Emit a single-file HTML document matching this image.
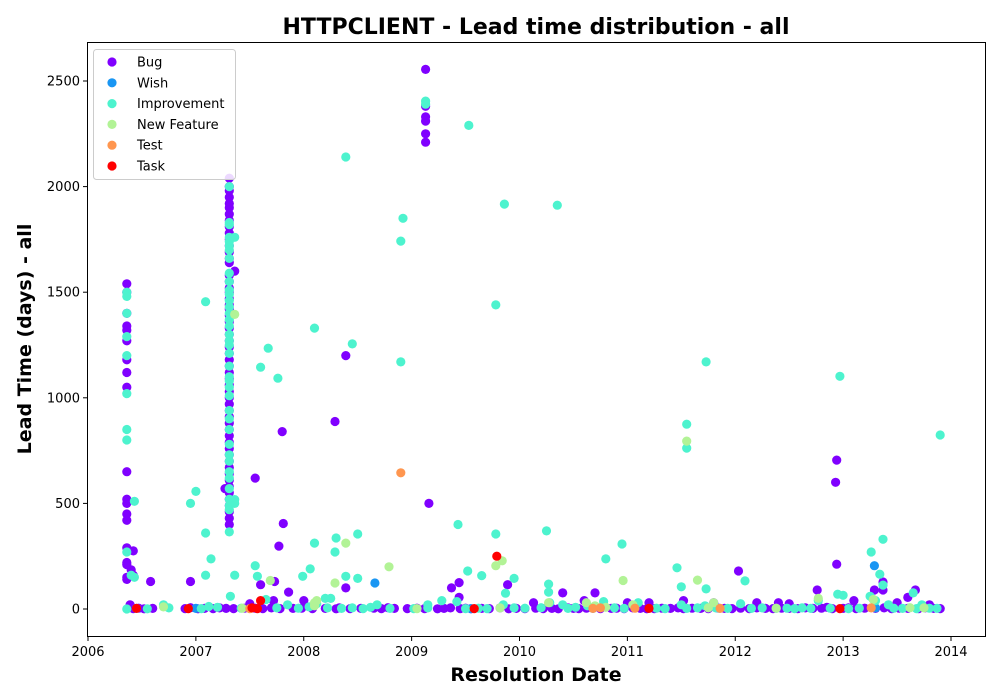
<!DOCTYPE html>
<html><head><meta charset="utf-8"><style>
html,body{margin:0;padding:0;background:#fff;width:1000px;height:700px;overflow:hidden}
text{font-family:"DejaVu Sans","Liberation Sans",sans-serif}
</style></head><body>
<svg id="chart" width="1000" height="700" xmlns="http://www.w3.org/2000/svg">
<text x="536" y="34" text-anchor="middle" font-size="22" font-weight="bold">HTTPCLIENT - Lead time distribution - all</text>
<rect x="87.5" y="42.5" width="898" height="594" fill="none" stroke="#000" stroke-width="1"/>
<g id="marks"></g><g id="xaxis"></g><g id="yaxis"></g>
<text x="536" y="681" text-anchor="middle" font-size="19" font-weight="bold">Resolution Date</text>
<text transform="translate(31,339) rotate(-90)" text-anchor="middle" font-size="19" font-weight="bold">Lead Time (days) - all</text>
<g id="legend"></g>
</svg>
<script>
const xTicks=[2006,2007,2008,2009,2010,2011,2012,2013,2014];
const yTicks=[0,500,1000,1500,2000,2500];
const seriesNames=["Bug","Wish","Improvement","New Feature","Test","Task"];
const seriesColors=["#8000ff","#1996f3","#4df3ce","#b2f396","#ff964f","#ff0000"];
const bug=[[2006.36,1540],[2006.36,1500],[2006.36,1400],[2006.36,1340],[2006.36,1320],[2006.36,1270],[2006.36,1180],[2006.36,1120],[2006.36,1050],[2006.36,650],[2006.36,520],[2006.36,500],[2006.36,450],[2006.36,420],[2006.36,290],[2006.36,220],[2006.36,210],[2006.36,150],[2006.36,140],[2006.39,20],[2006.42,275],[2006.4,185],[2006.42,160],[2006.58,130],[2006.95,130],
[2007.31,2040],[2007.31,2000],[2007.31,1980],[2007.31,1950],[2007.31,1920],[2007.31,1900],[2007.31,1870],[2007.31,1840],[2007.31,1810],[2007.31,1780],[2007.31,1750],[2007.31,1720],[2007.31,1690],[2007.31,1660],[2007.31,1640],[2007.36,1600],[2007.31,1580],[2007.31,1550],[2007.31,1520],[2007.31,1500],[2007.31,1470],[2007.31,1440],[2007.31,1420],[2007.31,1390],[2007.31,1360],[2007.31,1330],[2007.31,1300],[2007.31,1270],[2007.31,1240],[2007.31,1210],[2007.31,1180],[2007.31,1150],[2007.31,1120],[2007.31,1090],[2007.31,1060],[2007.31,1030],[2007.31,1000],[2007.31,970],[2007.31,940],[2007.31,910],[2007.31,880],[2007.31,850],[2007.31,820],[2007.31,790],[2007.31,760],[2007.31,730],[2007.31,700],[2007.31,670],[2007.31,640],[2007.31,610],[2007.31,580],[2007.27,570],[2007.31,550],[2007.31,520],[2007.31,490],[2007.31,460],[2007.31,430],[2007.31,400],
[2007.55,620],[2007.8,840],[2007.77,298],[2007.81,405],[2007.6,115],[2007.86,80],[2008.39,1200],[2008.29,888],[2008.39,100],[2009.13,2555],[2009.13,2380],[2009.13,2330],[2009.13,2310],[2009.13,2250],[2009.13,2210],[2009.16,500],[2009.44,125],[2009.37,100],[2009.44,55],[2009.89,115],[2010.4,76],[2010.7,76],[2012.03,180],[2012.94,705],[2012.93,600],[2012.94,212],[2013.29,90],[2013.37,128],[2013.37,90],[2013.67,90],[2013.6,55],[2012.76,90],[2007.73,130],[2007.72,40],[2008.0,40],[2010.13,30],[2010.6,40],[2011.0,30],[2011.2,30],[2012.2,30],[2012.4,30],[2012.5,25],[2013.1,40],[2013.5,30],[2013.8,20],[2011.52,40],[2011.8,30],
[2006.38,5],[2006.42,2],[2006.47,4],[2006.52,1],[2006.6,3],[2006.9,2],[2006.95,6],[2007.02,1],[2007.08,3],[2007.16,2],[2007.22,5],[2007.28,3],[2007.35,2],[2007.45,4],[2007.5,25],[2007.55,4],[2007.62,2],[2007.7,5],[2007.78,2],[2007.9,3],[2007.98,4],[2008.08,2],[2008.2,3],[2008.3,1],[2008.33,5],[2008.43,2],[2008.53,3],[2008.65,4],[2008.72,2],[2008.78,6],[2008.84,3],[2008.96,2],[2009.05,4],[2009.12,2],[2009.24,1],[2009.3,3],[2009.36,5],[2009.45,2],[2009.5,4],[2009.55,1],[2009.65,3],[2009.72,2],[2009.82,5],[2009.9,1],[2009.97,3],[2010.05,2],[2010.15,4],[2010.22,2],[2010.3,3],[2010.36,1],[2010.45,5],[2010.5,3],[2010.55,2],[2010.62,4],[2010.68,6],[2010.75,2],[2010.85,3],[2010.9,4],[2010.97,2],[2011.05,5],[2011.12,3],[2011.18,1],[2011.25,2],[2011.32,4],[2011.4,3],[2011.47,5],[2011.52,2],[2011.6,4],[2011.68,3],[2011.75,2],[2011.83,5],[2011.9,3],[2011.97,2],[2012.05,4],[2012.13,2],[2012.2,5],[2012.28,3],[2012.35,2],[2012.43,4],[2012.5,3],[2012.58,2],[2012.65,5],[2012.72,3],[2012.8,4],[2012.85,8],[2012.9,2],[2013.0,3],[2013.05,5],[2013.12,2],[2013.2,4],[2013.3,3],[2013.38,5],[2013.45,2],[2013.52,4],[2013.6,3],[2013.7,2],[2013.76,5],[2013.84,3],[2013.9,2]];
const wish=[[2013.29,205],[2008.66,123],[2007.0,3],[2009.55,2],[2010.68,3],[2011.85,4],[2013.3,5]];
const improvement=[[2006.36,1500],[2006.36,1480],[2006.36,1400],[2006.36,1290],[2006.36,1200],[2006.36,1020],[2006.36,850],[2006.36,800],[2006.43,510],[2006.36,270],[2006.36,0],[2006.4,160],[2006.43,150],
[2007.09,1455],[2007.0,557],[2006.95,500],[2007.09,360],[2007.09,160],[2007.14,237],[2007.36,1760],[2007.36,500],[2007.36,518],[2007.36,160],[2007.67,1235],[2007.6,1145],[2007.76,1093],[2007.55,205],[2007.57,155],
[2008.39,2140],[2008.1,1330],[2008.45,1255],[2008.3,336],[2008.5,355],[2008.39,155],[2008.06,190],[2008.1,312],[2008.29,270],[2007.99,155],[2008.5,145],[2008.92,1850],[2008.9,1742],[2008.9,1170],
[2009.13,2405],[2009.13,2390],[2009.53,2290],[2009.86,1917],[2010.35,1912],[2009.78,1440],[2009.43,400],[2009.78,355],[2009.52,180],[2009.65,158],[2009.95,145],[2010.25,370],[2010.27,118],[2010.8,237],[2010.95,308],[2010.27,80],[2009.87,75],
[2011.55,875],[2011.55,762],[2011.73,1170],[2011.46,195],[2011.5,105],[2011.73,95],[2012.09,133],[2012.97,1102],[2013.26,270],[2013.34,165],[2013.37,330],[2013.37,113],[2013.65,76],[2013.9,824],[2012.95,70],[2013.0,65],[2013.3,40],[2008.25,50],[2008.2,50],[2007.32,60],
[2007.31,2000],[2007.31,1830],[2007.31,1820],[2007.31,1760],[2007.31,1740],[2007.31,1720],[2007.31,1700],[2007.31,1660],[2007.31,1590],[2007.31,1550],[2007.31,1510],[2007.31,1490],[2007.31,1460],[2007.31,1430],[2007.31,1400],[2007.31,1370],[2007.31,1340],[2007.31,1300],[2007.31,1270],[2007.31,1250],[2007.31,1210],[2007.31,1150],[2007.31,1100],[2007.31,1080],[2007.31,1050],[2007.31,1010],[2007.31,940],[2007.31,900],[2007.31,850],[2007.31,780],[2007.31,730],[2007.31,700],[2007.31,650],[2007.31,620],[2007.31,570],[2007.31,520],[2007.31,490],[2007.31,470],[2007.31,365],
[2006.45,3],[2006.55,1],[2006.7,20],[2006.75,5],[2007.05,2],[2007.12,12],[2007.2,8],[2007.42,4],[2007.65,45],[2007.75,5],[2007.85,20],[2007.95,4],[2008.05,10],[2008.12,25],[2008.22,5],[2008.35,3],[2008.45,5],[2008.55,2],[2008.62,8],[2008.68,20],[2008.8,3],[2009.02,2],[2009.15,20],[2009.15,5],[2009.28,40],[2009.42,35],[2009.5,2],[2009.62,4],[2009.7,2],[2009.85,20],[2009.95,5],[2010.05,4],[2010.2,6],[2010.28,30],[2010.4,20],[2010.45,3],[2010.52,8],[2010.63,15],[2010.78,35],[2010.88,5],[2010.97,3],[2011.1,30],[2011.27,4],[2011.35,2],[2011.5,20],[2011.55,3],[2011.65,5],[2011.72,15],[2011.82,5],[2011.93,3],[2012.05,25],[2012.15,3],[2012.25,5],[2012.38,3],[2012.48,4],[2012.55,2],[2012.62,5],[2012.7,3],[2012.77,40],[2012.88,4],[2013.05,2],[2013.15,4],[2013.25,60],[2013.42,20],[2013.47,4],[2013.55,3],[2013.68,2],[2013.73,20],[2013.8,4],[2013.87,3]];
const newFeature=[[2007.36,1395],[2011.55,795],[2008.39,312],[2008.79,200],[2009.78,205],[2009.84,228],[2010.96,135],[2011.65,137],[2007.69,135],[2008.29,123],[2006.7,10],[2007.43,4],[2008.1,30],[2008.1,15],[2008.12,40],[2009.05,2],[2009.82,5],[2010.27,30],[2010.62,30],[2010.7,15],[2010.8,8],[2011.05,20],[2011.75,5],[2011.8,30],[2012.38,4],[2012.77,50],[2013.28,45],[2013.62,6],[2013.75,5]];
const test=[[2008.9,645],[2010.68,3],[2010.75,5],[2011.07,4],[2011.86,3],[2013.26,5],[2007.5,2]];
const task=[[2009.79,250],[2006.45,3],[2006.93,2],[2007.52,5],[2007.57,2],[2007.6,40],[2009.58,2],[2011.2,3],[2012.97,2]];
const allSeries=[bug,wish,improvement,newFeature,test,task];

const X0=88,X1=951,Y0=609,Y2500=81;
function xs(v){return X0+(v-2006)*(X1-X0)/8;}
function ys(v){return Y0-v*(Y0-Y2500)/2500;}
const NS="http://www.w3.org/2000/svg";
function mk(tag,attrs,parent){const e=document.createElementNS(NS,tag);for(const k in attrs)e.setAttribute(k,attrs[k]);parent.appendChild(e);return e;}

const marks=document.getElementById('marks');
allSeries.forEach((s,si)=>{
  const g=mk('g',{},marks);
  
  
  s.forEach(p=>{
    const c=mk('circle',{cx:xs(p[0]).toFixed(1),cy:ys(p[1]).toFixed(1),r:4.6,fill:seriesColors[si]},g);
    
    
  });
});

const xa=document.getElementById('xaxis');


xTicks.forEach(t=>{
  const x=xs(t);
  mk('line',{x1:x,x2:x,y1:637,y2:641,stroke:'#000'},xa);
  const tx=mk('text',{x:x,y:656,'text-anchor':'middle','font-size':13},xa);
  
  
  tx.textContent=t;
});
const ya=document.getElementById('yaxis');


yTicks.forEach(t=>{
  const y=ys(t);
  mk('line',{x1:83,x2:87,y1:y,y2:y,stroke:'#000'},ya);
  const tx=mk('text',{x:80,y:y+4.5,'text-anchor':'end','font-size':13},ya);
  
  
  tx.textContent=t;
});

const lg=document.getElementById('legend');
mk('rect',{x:93.5,y:49.5,width:142,height:130,rx:3,fill:'#fff','fill-opacity':0.85,stroke:'#ccc'},lg);
seriesNames.forEach((n,i)=>{
  const y=62+i*20.8;
  const e=mk('g',{},lg);
  
  
  mk('circle',{cx:112,cy:y,r:4.6,fill:seriesColors[i]},e);
  const t=mk('text',{x:137,y:y+4.5,'font-size':13},e);
  t.textContent=n;
});
</script>
</body></html>
